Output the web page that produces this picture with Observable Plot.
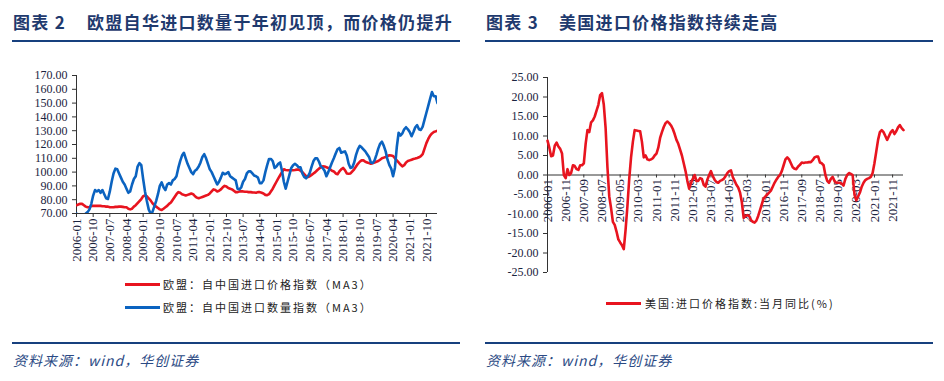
<!DOCTYPE html>
<html><head><meta charset="utf-8">
<script src="https://cdn.jsdelivr.net/npm/d3@7"></script>
<script src="https://cdn.jsdelivr.net/npm/@observablehq/plot@0.6"></script>
<style>
body{margin:0;background:#fff;}
#page{position:relative;width:944px;height:381px;overflow:hidden;background:#fff;}
.title{position:absolute;top:9px;font-family:"Noto Sans CJK SC";font-weight:700;font-size:17px;color:#1f3a6e;white-space:pre;letter-spacing:1.3px;line-height:26px;}
.rule{position:absolute;height:2.5px;background:#17407e;}
.src{position:absolute;top:350px;font-family:"Noto Sans CJK SC";font-style:italic;font-size:14px;color:#2b4a84;letter-spacing:1px;line-height:20px;white-space:pre;}
.leg{position:absolute;font-family:"Noto Sans CJK SC";font-size:11px;color:#222;letter-spacing:2px;line-height:16px;white-space:pre;}
.sw{position:absolute;height:3px;}
.chart{position:absolute;}
</style></head><body><div id="page">
<div class="title" style="left:13px">图表 2</div>
<div class="title" style="left:87px">欧盟自华进口数量于年初见顶，而价格仍提升</div>
<div class="rule" style="left:12px;width:448px;top:39.5px"></div>
<div class="title" style="left:486px">图表 3</div>
<div class="title" style="left:559px">美国进口价格指数持续走高</div>
<div class="rule" style="left:485px;width:448px;top:39.5px"></div>
<div id="left" class="chart" style="left:0;top:60px"></div>
<div id="right" class="chart" style="left:472px;top:60px"></div>
<div class="sw" style="left:125px;width:35px;top:283px;background:#e8141f"></div>
<div class="leg" style="left:163px;top:276px">欧盟：自中国进口价格指数（MA3）</div>
<div class="sw" style="left:125px;width:35px;top:306px;background:#0b63c0"></div>
<div class="leg" style="left:163px;top:299px">欧盟：自中国进口数量指数（MA3）</div>
<div class="sw" style="left:606px;width:35px;top:302px;background:#e8141f"></div>
<div class="leg" style="left:645px;top:295px">美国:进口价格指数:当月同比(%)</div>
<div class="rule" style="left:12px;width:448px;top:341.5px"></div>
<div class="rule" style="left:485px;width:448px;top:341.5px"></div>
<div class="src" style="left:13px">资料来源：wind，华创证券</div>
<div class="src" style="left:486px">资料来源：wind，华创证券</div>
</div>
<script>
// ---- data (monthly, starting 2006-01) ----
const startYear = 2006, startMonth = 1;
const euPrice = [
76,76.5,77,77,76,75,74.5,74.5,75.5,75.5,
75.5,75.5,75.5,75.5,75.3,75.2,75,75,74.5,74.5,
74.5,74.8,74.8,75,75,74.8,74.5,74.5,73.5,73,
73.5,75,76,77.5,79,80.5,82.5,83,82.5,81,
79.5,77.5,76,75,74,73,72.5,73.5,74.5,75.5,
77,78,80,82,84,85.5,85,84,83.5,83,
83.5,84,84.5,84,82.5,81.5,81,81.5,82,82.5,
83,83.5,84.5,86,87.5,87,86,86.5,87.5,89,
90,89.5,88.5,88,87.5,86.5,85.5,85.5,86,86,
86,85.8,85.8,85.5,85.5,85.3,85.2,85,85.5,85.5,
85,84.5,83.5,83.3,84,86,88,90.5,93,95.5,
97.7,100,102,101.5,101.3,101.3,101.3,101.3,101.5,101.8,
101.8,101,100,98.5,97,96.5,97,98,99,100,
101.3,102.5,103.5,104.2,104,103.5,103,102,101,100.5,
99,98.5,100.5,102,103,101.5,99,98.8,99,100.5,
102,104,106,107.5,108.5,108.5,107.5,107,106.5,106,
106.5,107,107.5,108,109,110,110.5,111,111.7,112.2,
112,111.7,110,108.5,107,105.5,104.2,105,107,108,
108.5,109,109.5,109.8,110.2,110.7,111.5,113,117,121,
124,126.5,128,129,129.5,130];
const euVolume = [
70,68,67,67,68,70,71,73,77,83,
87,86,87,85,87,84,81,80.5,86,93,
99,102.5,102,99,96,93,91,88,85,86,
91,95,97,104,106.5,105,95,86,79,73,
70,71,75,79,84,90,92.5,89,87,91,
92,91,94,95,97,103,108,112,114,110,
106,103,100,98.5,101,102,104,107,111,113,
110,106,102,100,97,94,91,93,96,99.5,
98.5,99,100,97,96,95,94,88,87.5,89,
93,95,99,100.5,100.5,99,97.5,97,96,92,
92,94,100,105,109.5,109.5,108,103,104,106,
107,101,93,88,93,98,103,105,106,105,
103.5,103.5,99,96.5,95.5,97,99.5,104,108,110,
110,107.5,104,103,101,97,100,103.5,107,110,
113.5,116.5,117.5,114,114.5,115,112,106,103,103.5,
107,112.5,116.5,119,118,116.5,115,113,111,107,
106.5,108.5,112.5,117,120.5,122,119,115,109,105,
102.5,97,103,118,128.5,126.5,128,131,132.5,131,
129,126,129,132.5,134,131,130.5,133,138,143,
148,153,158,155,155,150];
const usImportYoY = [
8.8,7,4.8,5,7.5,8.3,7.3,6.7,5.5,0,
-0.8,1.5,0,0.5,2.5,2.3,1.5,1.3,2.5,2.5,
3,8,11.5,11,13.5,14,15,16.5,18,20.5,
21,18,12,2,-5.5,-8.5,-12,-12.8,-14.5,-16.5,
-17.3,-18,-19,-14,-8,-1,4.5,8.5,11.5,11.4,
11.3,11.2,8.5,4.5,5,4,3.8,4,4.3,5,
5.5,7,9.5,11,12.3,13.3,13.7,13.3,12.7,11.8,
10.5,9,8,6.5,5,3,1,-1.5,-3.5,-2,
-1,0,-1.5,-1.5,-0.8,-1,-2.5,-3,-1.2,0,
1,-0.3,-1.2,-1.8,-2,-1.5,-1.3,-1,-0.3,0.5,
1,1.2,-0.5,-1.5,-2.5,-3.2,-4.5,-7,-11,-10.5,
-10.3,-10.5,-11.5,-12,-12.2,-11.7,-10.5,-9,-7.5,-6,
-5.5,-5,-4.5,-4,-3,-2,-1.2,-0.5,0,1,
2.5,4,4.5,4,3,2,1.6,1.5,2.2,2.6,
3.2,3.1,3.2,3.2,3.3,3.3,3.8,4.5,4.7,4.7,
3.2,3,2.5,0,-1.5,-2,-1,-0.5,-1.5,-2,
-2,-2,-2.2,-2.7,-1,0,0.5,0.3,0,-5,
-6.5,-5.5,-4.5,-3,-2,-1.3,-1,-0.8,-0.5,0.5,
3,6,9,11,11.5,11,10,9,10,11,
11.5,10.5,11.2,12.2,12.8,12,11.5];
const leftXTicks = ["2006-01","2006-10","2007-07","2008-04","2009-01","2009-10","2010-07","2011-04","2012-01","2012-10","2013-07","2014-04","2015-01","2015-10","2016-07","2017-04","2018-01","2018-10","2019-07","2020-04","2021-01","2021-10"];
const rightXTicks = ["2006-01","2006-11","2007-09","2008-07","2009-05","2010-03","2011-01","2011-11","2012-09","2013-07","2014-05","2015-03","2016-01","2016-11","2017-09","2018-07","2019-05","2020-03","2021-01","2021-11"];
const leftYTicks = [70,80,90,100,110,120,130,140,150,160,170];
const rightYTicks = [-25,-20,-15,-10,-5,0,5,10,15,20,25];

function monthLabels(n){
  const out = [];
  for (let i = 0; i < n; i++) {
    const t = startMonth - 1 + i;
    out.push(`${startYear + Math.floor(t / 12)}-${String(t % 12 + 1).padStart(2, "0")}`);
  }
  return out;
}
const euMonths = monthLabels(euPrice.length);
const usMonths = monthLabels(usImportYoY.length);
const euRows = euMonths.map((m, i) => ({month: m, price: euPrice[i], volume: euVolume[i]}));
const usRows = usMonths.map((m, i) => ({month: m, yoy: usImportYoY[i]}));

const RED = "#e8141f", BLUE = "#0b63c0", AX = "#333";
const style = {fontFamily: "'Liberation Serif', 'Times New Roman', serif", fontSize: "12px", color: "#1b2440", background: "transparent", overflow: "visible"};

const left = Plot.plot({
  width: 472, height: 210,
  marginLeft: 76, marginRight: 35, marginTop: 15, marginBottom: 57,
  style,
  x: {type: "point", domain: euMonths, padding: 0},
  y: {domain: [70, 170]},
  marks: [
    Plot.axisY({ticks: leftYTicks, tickFormat: d => d.toFixed(2), tickSize: 4, tickPadding: 5, label: null, stroke: AX}),
    Plot.axisX({ticks: leftXTicks, tickRotate: -90, tickSize: 4, tickPadding: 1, label: null, fontSize: 13, stroke: AX}),
    Plot.ruleY([70], {stroke: AX}),
    Plot.ruleX([euMonths[0]], {stroke: AX}),
    Plot.line(euRows, {x: "month", y: "price", stroke: RED, strokeWidth: 2.6, clip: true}),
    Plot.line(euRows, {x: "month", y: "volume", stroke: BLUE, strokeWidth: 2.6, clip: true})
  ]
});
document.getElementById("left").append(left);

const right = Plot.plot({
  width: 472, height: 225,
  marginLeft: 75, marginRight: 41, marginTop: 17, marginBottom: 13,
  style,
  x: {type: "point", domain: usMonths, padding: 0, axis: null},
  y: {domain: [-25, 25]},
  marks: [
    Plot.axisY({ticks: rightYTicks, tickFormat: d => d.toFixed(2), tickSize: 4, tickPadding: 5, label: null, stroke: AX}),
    Plot.ruleX([usMonths[0]], {stroke: AX}),
    Plot.ruleX(rightXTicks, {x: d => d, y1: 0, y2: 0, insetBottom: -3, stroke: AX}),
    Plot.text(rightXTicks, {x: d => d, y: 0, text: d => d, rotate: -90, textAnchor: "end", dy: 4, fontSize: 13, fill: "#1b2440"}),
    Plot.ruleY([0], {stroke: AX}),
    Plot.line(usRows, {x: "month", y: "yoy", stroke: RED, strokeWidth: 2.6})
  ]
});
document.getElementById("right").append(right);
</script>
</body></html>
